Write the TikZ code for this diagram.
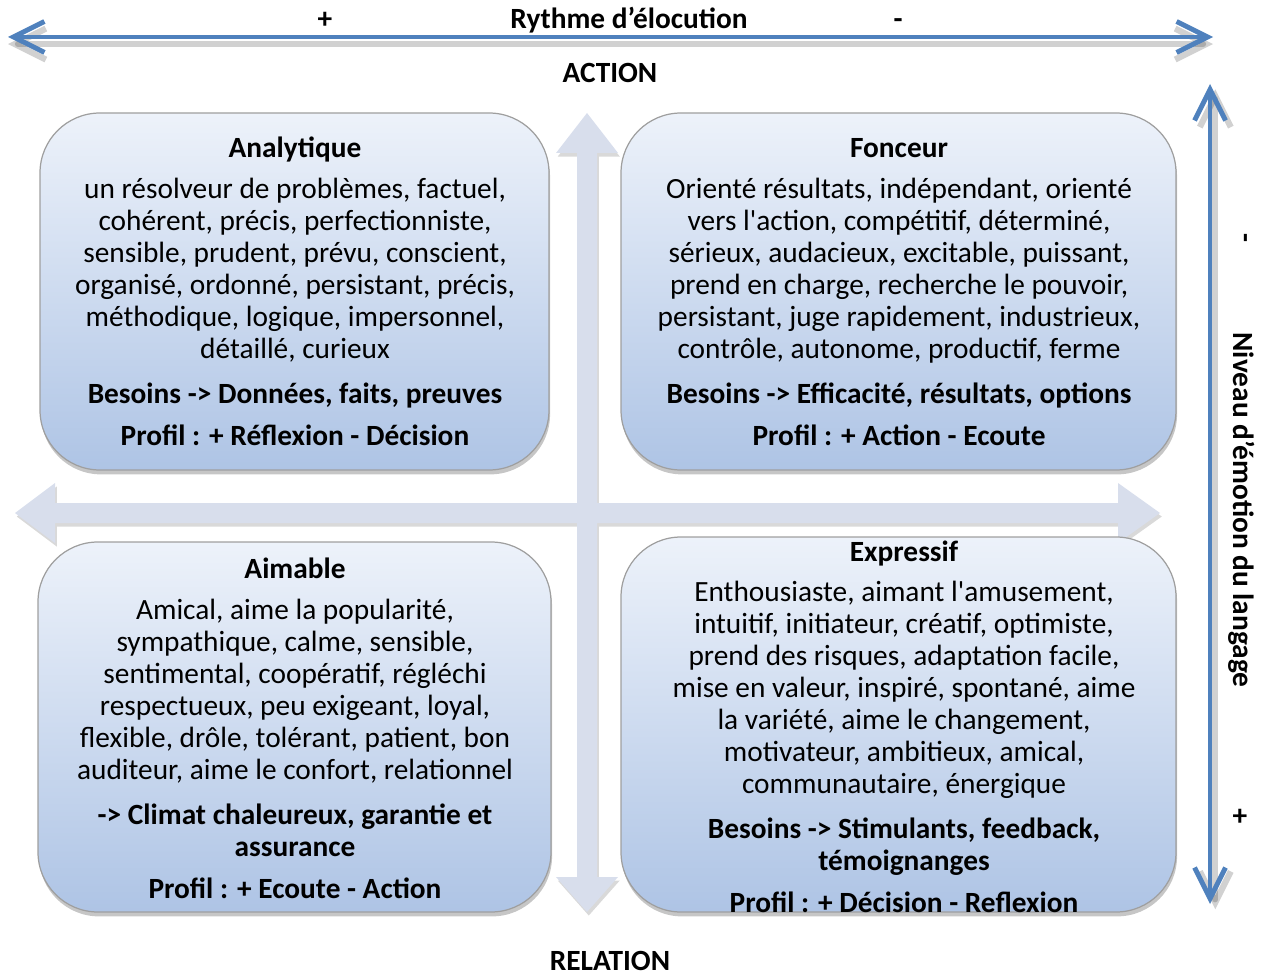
\documentclass[tikz,border=0pt]{standalone}
\usepackage{fontspec}
\setmainfont{Carlito}[Ligatures=TeXOff]
\usetikzlibrary{arrows.meta,shadows}
\definecolor{bleu}{RGB}{79,129,189}
\definecolor{haut}{RGB}{237,242,250}
\definecolor{bas}{RGB}{174,196,229}
\definecolor{pale}{RGB}{216,222,236}

\begin{document}
\begin{tikzpicture}[x=0.02cm,y=-0.02cm,
    quad/.style={draw=gray!75, line width=0.7pt, rounded corners=1.2cm,
      top color=haut, bottom color=bas,
      drop shadow={shadow xshift=0.6pt, shadow yshift=-2.5pt, opacity=0.45}},
    croix/.style={fill=pale, drop shadow={shadow xshift=1pt, shadow yshift=-2pt, opacity=0.3}},
    axe/.style={line width=2.8pt, bleu, line cap=round,
      {Straight Barb[length=0.62cm,width=0.62cm]}-{Straight Barb[length=0.62cm,width=0.62cm]}},
    ombre/.style={line width=3.5pt, black, opacity=0.18, line cap=round,
      {Straight Barb[length=0.62cm,width=0.62cm]}-{Straight Barb[length=0.62cm,width=0.62cm]}},
    titre/.style={font=\fontsize{16.7pt}{18.14pt}\selectfont\bfseries, anchor=base, align=center},
    corps/.style={font=\fontsize{16.7pt}{18.14pt}\selectfont, anchor=base, align=center}]
    \useasboundingbox (0,0) rectangle (1266,976);

    % axes
    \coordinate (gauche) at (8,37);
    \coordinate (droite) at (1213,37);
    \coordinate (haut) at (1210,84);
    \coordinate (bas) at (1210,904);
    \draw[ombre,transform canvas={yshift=-4pt}] (gauche) -- (droite);
    \draw[ombre,transform canvas={xshift=3pt,yshift=-3pt}] (haut) -- (bas);
    \draw[axe] (gauche) -- (droite);
    \draw[axe] (haut) -- (bas);

    \node[titre] (plus) at (325,29) {+};
    \node[titre] (rythme) at (629,29) {Rythme d’élocution};
    \node[titre] (moins) at (898,29) {-};
    \node[titre] (action) at (610,83) {ACTION};
    \node[titre,inner sep=0pt] (relation) at (610,970) {RELATION};
    \node[titre,anchor=center,rotate=-90] (emotion) at (1242,510) {Niveau d’émotion du langage};
    \node[titre,anchor=center,rotate=-90] (moinsb) at (1242,238) {-};
    \node[titre,anchor=center] (plusb) at (1240,817) {+};

    % croix centrale
    \fill[croix] (587,113) -- (618,153) -- (597,153) -- (597,503) -- (1118,503) -- (1118,483)
      -- (1160,513) -- (1118,543) -- (1118,523) -- (597,523) -- (597,877) -- (618,877)
      -- (587,912) -- (556,877) -- (577,877) -- (577,523) -- (55,523) -- (55,543)
      -- (15,513) -- (55,483) -- (55,503) -- (577,503) -- (577,153) -- (556,153) -- cycle;

    % quadrants
    \path[quad] (40,113) rectangle (549,470);
    \path[quad] (621,113) rectangle (1176,470);
    \path[quad] (38,542) rectangle (551,912);
    \path[quad] (621,537) rectangle (1176,912);

    \node[titre] (analytique) at (295,158) {Analytique};
    \node[corps] (analytiquetxt) at (295,358) {un résolveur de problèmes, factuel,\\
      cohérent, précis, perfectionniste,\\ sensible, prudent, prévu, conscient,\\
      organisé, ordonné, persistant, précis,\\ méthodique, logique, impersonnel,\\
      détaillé, curieux};
    \node[titre] (analytiquebes) at (295,403) {Besoins -> Données, faits, preuves};
    \node[titre] (analytiquepro) at (295,445) {Profil : + Réflexion - Décision};

    \node[titre] (fonceur) at (899,158) {Fonceur};
    \node[corps] (fonceurtxt) at (899,358) {Orienté résultats, indépendant, orienté\\
      vers l'action, compétitif, déterminé,\\ sérieux, audacieux, excitable, puissant,\\
      prend en charge, recherche le pouvoir,\\ persistant, juge rapidement, industrieux,\\
      contrôle, autonome, productif, ferme};
    \node[titre] (fonceurbes) at (899,403) {Besoins -> Efficacité, résultats, options};
    \node[titre] (fonceurpro) at (899,445) {Profil : + Action - Ecoute};

    \node[titre] (aimable) at (295,578) {Aimable};
    \node[corps] (aimabletxt) at (295,779) {Amical, aime la popularité,\\
      sympathique, calme, sensible,\\ sentimental, coopératif, régléchi\\
      respectueux, peu exigeant, loyal,\\ flexible, drôle, tolérant, patient, bon\\
      auditeur, aime le confort, relationnel};
    \node[titre] (aimablebes) at (295,856) {-> Climat chaleureux, garantie et\\ assurance};
    \node[titre] (aimablepro) at (295,898) {Profil : + Ecoute - Action};

    \node[titre] (expressif) at (904,561) {Expressif};
    \node[corps] (expressiftxt) at (904,793) {Enthousiaste, aimant l'amusement,\\
      intuitif, initiateur, créatif, optimiste,\\ prend des risques, adaptation facile,\\
      mise en valeur, inspiré, spontané, aime\\ la variété, aime le changement,\\
      motivateur, ambitieux, amical,\\ communautaire, énergique};
    \node[titre] (expressifbes) at (904,870) {Besoins -> Stimulants, feedback,\\ témoignanges};
    \node[titre] (expressifpro) at (904,912) {Profil : + Décision - Reflexion};
  \end{tikzpicture}
\end{document}
